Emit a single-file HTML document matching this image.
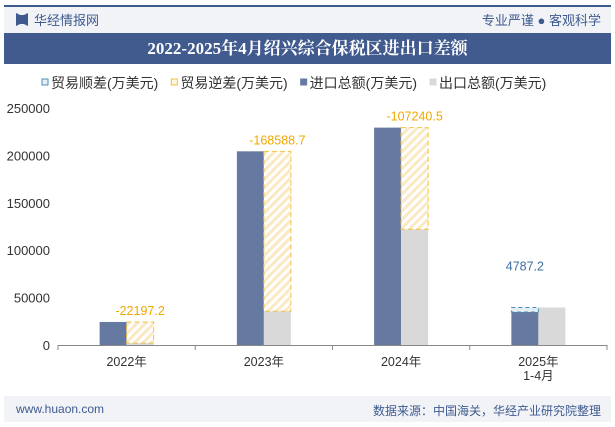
<!DOCTYPE html>
<html><head><meta charset="utf-8"><style>
body{margin:0;width:615px;height:427px;background:#fff;font-family:"Liberation Sans","Noto Sans CJK SC",sans-serif;overflow:hidden;position:relative}
.abs{position:absolute}
</style></head><body>
<div class="abs" style="left:4px;top:5px;width:607px;height:28px;background:#f1f3f7;border-top:2px solid #3e5a8f"></div>
<div class="abs" style="left:16px;top:13px;width:12px;height:13px;background:#3e5a8f;clip-path:polygon(0 0,35% 15%,65% 15%,100% 0,100% 100%,65% 85%,35% 85%,0 100%)"></div>
<div class="abs" style="left:34px;top:10px;font-size:13px;color:#3e5a8f">华经情报网</div>
<div class="abs" style="right:14px;top:10px;font-size:13px;color:#3e5a8f">专业严谨 ● 客观科学</div>
<div class="abs" style="left:4px;top:33px;width:607px;height:31px;background:#415b8f;color:#fff;font-family:'Liberation Serif','Noto Serif CJK SC',serif;font-weight:bold;font-size:17px;line-height:31px;text-align:center">2022-2025年4月绍兴综合保税区进出口差额</div>
<div class="abs" style="left:4px;top:396px;width:607px;height:26px;background:#f1f3f7"></div>
<div class="abs" style="left:16px;top:402px;font-size:12px;color:#3e5a8f">www.huaon.com</div>
<div class="abs" style="right:14px;top:402px;font-size:12px;color:#3e5a8f">数据来源：中国海关，华经产业研究院整理</div>
<svg id="c" class="abs" style="left:0;top:0" width="615" height="427">
<defs><pattern id="h" width="6" height="6" patternUnits="userSpaceOnUse" patternTransform="rotate(45)"><rect width="6" height="6" fill="#fff"/><rect width="3" height="6" fill="#fbe9c4"/></pattern></defs>
</svg>
<script>
const categories=["2022年","2023年","2024年","2025年\n1-4月"];
const imports=[24300,204300,229300,34800];
const exports_=[2100,35700,122060,39600];
const diffLabels=["-22197.2","-168588.7","-107240.5","4787.2"];
const yTicks=[0,50000,100000,150000,200000,250000];
const legendItems=[["贸易顺差(万美元)","sur"],["贸易逆差(万美元)","def"],["进口总额(万美元)","imp"],["出口总额(万美元)","exp"]];
const svg=document.getElementById('c');const NS='http://www.w3.org/2000/svg';
const x0=58,x1=607,y0=345,yTop=108;
const y=v=>y0-(v/250000)*(y0-yTop);
const cw=(x1-x0)/categories.length;const cx=i=>x0+cw*(i+0.5);
function mk(t,a,p){const e=document.createElementNS(NS,t);for(const k in a)e.setAttribute(k,a[k]);(p||svg).appendChild(e);return e;}
yTicks.forEach(v=>{const t=mk('text',{x:50,y:y(v)+5,'text-anchor':'end','font-size':13,fill:'#333'});t.textContent=v;

});
const ax=mk('line',{x1:x0,x2:x1,y1:y0+0.5,y2:y0+0.5,stroke:'#888'});


for(let i=0;i<=categories.length;i++){const l=mk('line',{x1:x0+cw*i,x2:x0+cw*i,y1:y0,y2:y0+5,stroke:'#888'});

}
categories.forEach((c,i)=>{
 const lines=c.split('\n');lines.forEach((s,j)=>{const t=mk('text',{x:cx(i),y:366+j*14,'text-anchor':'middle','font-size':12.5,fill:'#333'});t.textContent=s;
 
 });
 const bw=27,xi=cx(i)-bw,xe=cx(i);
 const r1=mk('rect',{x:xi,y:y(imports[i]),width:bw,height:y0-y(imports[i]),fill:'#6679a0'});
 
 
 const r2=mk('rect',{x:xe,y:y(exports_[i]),width:bw,height:y0-y(exports_[i]),fill:'#d9d9d9'});
 
 
 const d=exports_[i]-imports[i];const top=y(Math.max(imports[i],exports_[i])),bot=y(Math.min(imports[i],exports_[i]));
 let r3,bx,col,ly;
 if(d<0){bx=xe;col='#f5c242';ly=top-7;r3=mk('rect',{x:bx,y:top,width:bw,height:bot-top,fill:'url(#h)',stroke:col,'stroke-dasharray':'5,3'});}
 else{bx=xi;col='#4a90b8';ly=top-37;r3=mk('rect',{x:bx,y:top,width:bw,height:bot-top,fill:'#e6eef5',stroke:col,'stroke-dasharray':'4,3'});}
 
 const t=mk('text',{x:bx+bw/2,y:ly,'text-anchor':'middle','font-size':12.5,fill:d<0?'#f0a800':'#3e6fa0'});t.textContent=diffLabels[i];
 
 
});
let lx=42;const sw={sur:['#e6eef5','#4a90b8'],def:['#fff6dd','#f5c242'],imp:['#6679a0','#6679a0'],exp:['#d9d9d9','#d9d9d9']};
legendItems.forEach(([n,k])=>{const g=mk('g',{});
 
 
 mk('rect',{x:lx,y:79,width:6,height:6,fill:sw[k][0],stroke:sw[k][1]},g);
 const t=mk('text',{x:lx+9,y:88,'font-size':14,fill:'#333'},g);t.textContent=n;lx+=t.getComputedTextLength()+22;});
</script>
</body></html>
